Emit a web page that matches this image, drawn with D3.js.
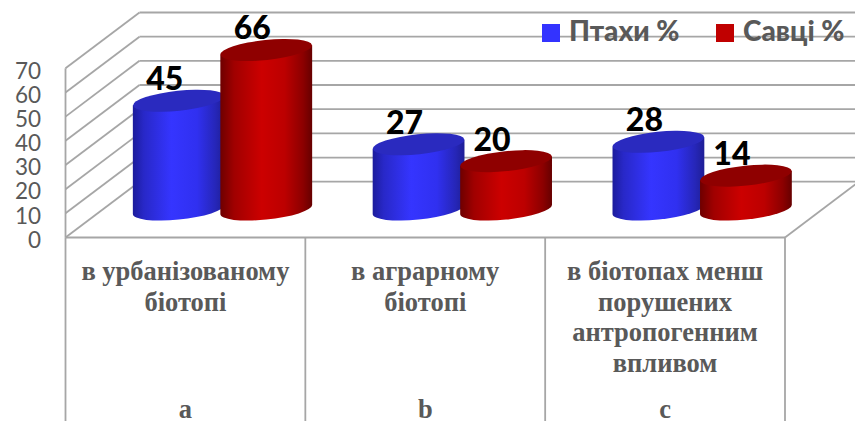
<!DOCTYPE html>
<html>
<head>
<meta charset="utf-8">
<script src="https://cdn.jsdelivr.net/npm/d3@7"></script>
<style>
  html, body { margin:0; padding:0; background:#fff; overflow:hidden; }
</style>
</head>
<body>
<div id="chart"></div>
<script>
const categories = [
  ["в урбанізованому","біотопі"],
  ["в аграрному","біотопі"],
  ["в біотопах менш","порушених","антропогенним","впливом"]
];
const letters = ["a","b","c"];
const seriesNames = ["Птахи %","Савці %"];
const birds = [45,27,28];
const mammals = [66,20,14];
const yTicks = [0,10,20,30,40,50,60,70];

const width = 855;
const height = 421;
const frontX0 = 65.5, frontX1 = 785, floorY = 237.5;
const depthX = 74, depthY = 55.8;
const wallH = 169.2;

const svg = d3.select("#chart").append("svg")
  .attr("width", width)
  .attr("height", height)
  .style("display","block");

// front plane value scale, back wall is the same one shifted by the depth
const y = d3.scaleLinear().domain([0,70]).range([floorY, floorY - wallH]);
const x = d3.scaleBand().domain(d3.range(3)).range([frontX0, frontX1]);
const xSeries = d3.scaleBand().domain([0,1]).range([69.5, 244.5]);

const gridColor = "#a6a6a6";
const grid = svg.append("g").attr("stroke", gridColor).attr("stroke-width", 1.8).attr("fill","none");

// back wall lines + left wall diagonals
yTicks.forEach(t => {
  grid.append("line")
    .attr("x1", frontX0 + depthX).attr("x2", width)
    .attr("y1", y(t) - depthY).attr("y2", y(t) - depthY);
  grid.append("line")
    .attr("x1", frontX0).attr("x2", frontX0 + depthX)
    .attr("y1", y(t)).attr("y2", y(t) - depthY);
});
// left wall front edge
grid.append("line").attr("x1", frontX0).attr("x2", frontX0).attr("y1", y(70)).attr("y2", floorY);
// floor front + right edge
grid.append("line").attr("x1", frontX0).attr("x2", frontX1).attr("y1", floorY).attr("y2", floorY);
grid.append("line").attr("x1", frontX1).attr("x2", frontX1 + depthX).attr("y1", floorY).attr("y2", floorY - depthY);
// category separators
d3.range(4).forEach(i => {
  const px = i < 3 ? x(i) : frontX1;
  grid.append("line").attr("x1", px).attr("x2", px).attr("y1", floorY).attr("y2", height);
});

// Y axis labels
const yAxis = svg.append("g")
  .attr("transform", "translate(44,2.5)")
  .call(d3.axisLeft(y).tickValues(yTicks).tickSize(0).tickPadding(3));
yAxis.select(".domain").remove();
yAxis.selectAll("text")
  .style("font-family","Lato")
  .style("font-size","22.5px")
  .attr("fill","#595959");

// gradients
const defs = svg.append("defs");
function gradient(id, stops){
  const g = defs.append("linearGradient").attr("id", id);
  stops.forEach(s => g.append("stop").attr("offset", s[0]).attr("stop-color", s[1]));
}
gradient("gradBlue", [[0,"#1c1c9c"],[0.12,"#2828c8"],[0.42,"#3535ff"],[0.7,"#3030f0"],[0.9,"#2626b8"],[1,"#1e1e96"]]);
gradient("gradRed", [[0,"#6e0000"],[0.15,"#a00000"],[0.45,"#cc0000"],[0.7,"#bc0000"],[0.9,"#8c0000"],[1,"#660000"]]);

const rx = 46, ry = 10, tilt = -6;
const xe = 45.9, ye = 4.6;   // tangent point of the tilted ellipse
const baseY = 209.5;         // floor position of the cylinder axis
const topColor = ["#2a2abf","#8f0000"];
const sideFill = ["url(#gradBlue)","url(#gradRed)"];
const values = [birds, mammals];
const barH = v => floorY - y(v);

const cylinders = [];
categories.forEach((c,i) => {
  values.forEach((vals,s) => {
    cylinders.push({
      cx: x(i) + xSeries(s) + xSeries.bandwidth()/2,
      top: baseY - barH(vals[i]),
      value: vals[i],
      s: s
    });
  });
});

const bars = svg.selectAll(".cyl").data(cylinders).enter().append("g").attr("class","cyl");

bars.append("path")
  .attr("fill", d => sideFill[d.s])
  .attr("d", d => `M${d.cx-xe},${d.top+ye} L${d.cx-xe},${baseY+ye} A${rx},${ry} ${tilt} 0 0 ${d.cx+xe},${baseY-ye} L${d.cx+xe},${d.top-ye} Z`);

bars.append("ellipse")
  .attr("rx", rx).attr("ry", ry)
  .attr("transform", d => `translate(${d.cx},${d.top}) rotate(${tilt})`)
  .attr("fill", d => topColor[d.s]);

// value labels
svg.selectAll(".label").data(cylinders).enter().append("text")
  .attr("class","label")
  .attr("x", d => d.cx - 14)
  .attr("y", d => d.top - 10.5)
  .attr("text-anchor","middle")
  .style("font-family","Lato")
  .style("font-weight","900")
  .style("font-size","32px")
  .attr("fill","#000")
  .text(d => d.value);

// legend
const legendColors = ["#3333ff","#c00000"];
const legendX = [542, 716];
const legend = svg.selectAll(".legend").data(seriesNames).enter().append("g")
  .attr("class","legend")
  .attr("transform", (d,i) => `translate(${legendX[i]},24)`);
legend.append("rect").attr("width",18).attr("height",18).attr("fill",(d,i)=>legendColors[i]);
legend.append("text")
  .attr("x",27).attr("y",17)
  .style("font-family","Lato")
  .style("font-weight","900")
  .style("font-size","28px")
  .attr("fill","#595959")
  .text(d => d);

// category labels
const catText = svg.append("g")
  .attr("text-anchor","middle")
  .style("font-family","'Liberation Serif'")
  .style("font-weight","bold")
  .attr("fill","#595959");
categories.forEach((lines,i) => {
  const cx = x(i) + x.bandwidth()/2;
  lines.forEach((t,j) => {
    catText.append("text")
      .attr("x", cx).attr("y", 280 + j*30.5)
      .style("font-size","26.5px")
      .text(t);
  });
  catText.append("text")
    .attr("x", cx).attr("y", 418)
    .style("font-size","26.5px")
    .text(letters[i]);
});
</script>
</body>
</html>
